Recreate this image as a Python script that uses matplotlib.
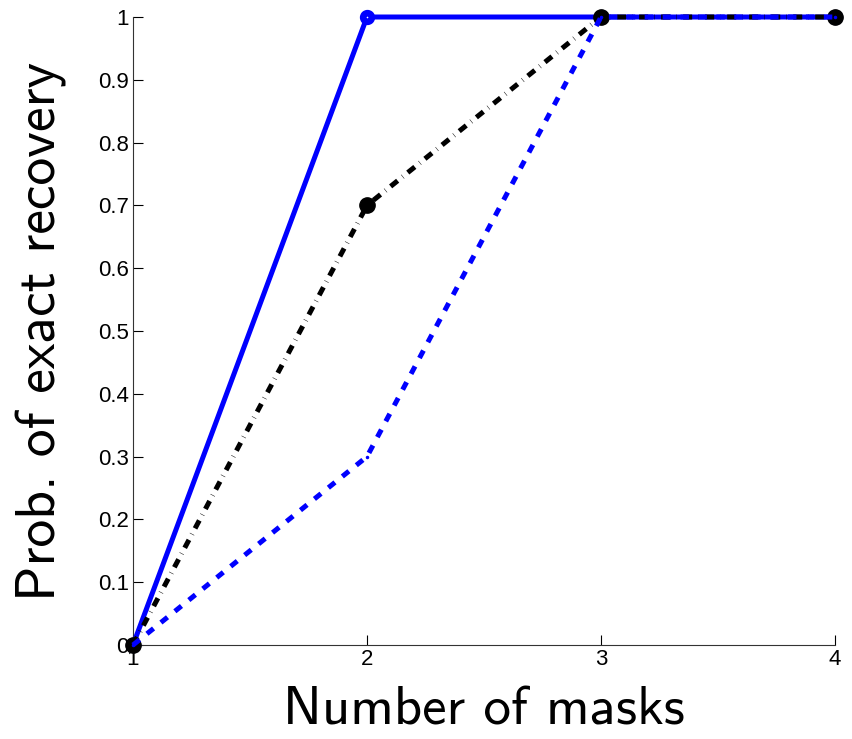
import numpy as np
import matplotlib.pyplot as plt

plt.rcParams['lines.scale_dashes'] = False

masks = [1, 2, 3, 4]
solid_blue = [0, 1, 1, 1]
dashdot_black = [0, 0.7, 1, 1]
dashed_blue = [0, 0.3, 1, 1]

yticks = [0, 0.1, 0.2, 0.3, 0.4, 0.5, 0.6, 0.7, 0.8, 0.9, 1]
ytick_labels = ['0', '0.1', '0.2', '0.3', '0.4', '0.5', '0.6', '0.7', '0.8', '0.9', '1']

fig = plt.figure(figsize=(8.53, 7.39), dpi=100)
ax = fig.add_axes([133/853, 1 - 645/739, (835-133)/853, (645-17)/739])

ax.plot(masks, solid_blue, '-o', color='#0000ff', lw=3.6, ms=6.2,
        mfc='white', mec='#0000ff', mew=4.8, clip_on=False, zorder=3)
ax.plot(masks, dashdot_black, '-.o', color='black', lw=3.6, ms=11,
        mfc='black', mec='black', dashes=(6.5, 4.5, 0.35, 4.5),
        clip_on=False, zorder=4)
ax.plot(masks, dashed_blue, '--o', color='#0000ff', lw=3.6, ms=1.5, mew=1,
        dashes=(6.1, 6.8), clip_on=False, zorder=5)

ax.set_xlim(1, 4)
ax.set_ylim(0, 1)
ax.set_xticks(masks)
ax.set_yticks(yticks)
ax.set_yticklabels(ytick_labels)

for side in ['top', 'right']:
    ax.spines[side].set_visible(False)
for side in ['left', 'bottom']:
    ax.spines[side].set_linewidth(0.8)
    ax.spines[side].set_color('#333333')

ax.tick_params(direction='in', length=7, width=0.8, labelsize=16, pad=3)
for lab in ax.get_xticklabels() + ax.get_yticklabels():
    lab.set_fontfamily(['Liberation Sans', 'DejaVu Sans'])

ax.set_xlabel('Number of masks', fontsize=39.5, family=['cmss10', 'DejaVu Sans'], labelpad=12)
ax.set_ylabel('Prob. of exact recovery', fontsize=40, family=['cmss10', 'DejaVu Sans'], labelpad=22)

fig.savefig('out.png', dpi=100)
